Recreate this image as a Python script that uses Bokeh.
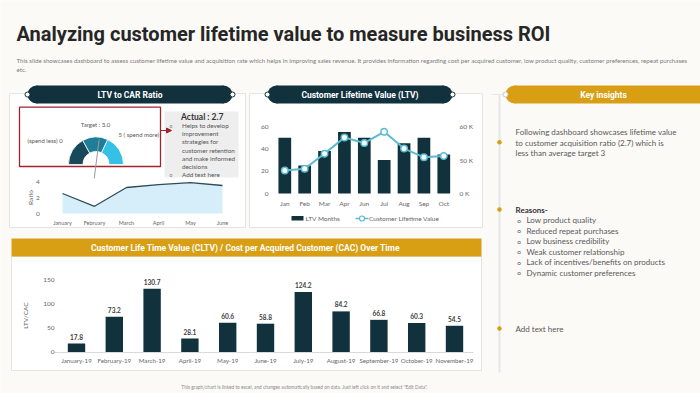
import math
from bokeh.plotting import figure
from bokeh.models import Range1d, LinearAxis, FixedTicker, Arrow, NormalHead
from bokeh.core.properties import value
from bokeh.embed import file_html
from bokeh.resources import INLINE

# ---------------- data ----------------
title_text = "Analyzing customer lifetime value to measure business ROI"
subtitle_lines = [
    "This slide showcases dashboard to assess customer lifetime value and acquisition rate which helps in improving sales revenue. "
    "It provides information regarding cost per acquired customer, low product quality, customer preferences, repeat purchases",
    "etc.",
]
footer_text = 'This graph/chart is linked to excel, and changes automatically based on data. Just left click on it and select "Edit Data".'

gauge_min, gauge_max = 0, 5
gauge_bands = [0, 1.7, 3.2, 5]
target_ratio = 3.0
actual_ratio = 2.7
actual_notes = ["Helps to develop", "improvement", "strategies for", "customer retention",
                "and make informed", "decisions"]

ratio_months = ["January", "February", "March", "April", "May", "June"]
ratio_values = [2.5, 0.9, 3.25, 3.6, 3.85, 3.5]
ratio_ticks = [0, 2, 4]

ltv_months = ["Jan", "Feb", "Mar", "Apr", "Jun", "Jul", "Aug", "Sep", "Oct"]
ltv_month_counts = [50, 25, 38, 55, 50, 30, 45, 50, 35]
clv_thousands = [46.9, 47.4, 51.9, 56.7, 55.1, 58.4, 53.4, 50.8, 51.2]
ltv_left_ticks = [0, 20, 40, 60]
ltv_right_ticks = [40, 50, 60]
ltv_right_labels = ["0 K", "50 K", "60 K"]

cltv_months = ["January-19", "February-19", "March-19", "April-19", "May-19", "June-19",
               "July-19", "August-19", "September-19", "October-19", "November-19"]
cltv_values = [17.8, 73.2, 130.7, 28.1, 60.6, 58.8, 124.2, 84.2, 66.8, 60.3, 54.5]
cltv_ticks = [0, 50, 100, 150]

insight_lines = ["Following dashboard showcases lifetime value",
                 "to customer acquisition ratio (2.7) which is",
                 "less than average target 3"]
reasons = ["Low product quality", "Reduced repeat purchases", "Low business credibility",
           "Weak customer relationship", "Lack of incentives/benefits on products",
           "Dynamic customer preferences"]

# ---------------- style ----------------
BG = "#fbfaf7"
NAVY = "#11313c"
GOLD = "#d89e14"
TEAL = "#5bbcd0"
RED = "#a3222e"
GRAY = "#666666"
TXT = "#595959"
gauge_colors = ["#17495a", "#1e7e98", "#36c0e6"]

X0, X1 = 0, 700
YB, YT = 393, 0

p = figure(width=700, height=393, x_range=Range1d(X0, X1), y_range=Range1d(YB, YT),
           x_axis_type=None, y_axis_type=None, output_backend="svg", toolbar_location=None,
           min_border=0, background_fill_color=BG, border_fill_color=BG)
p.outline_line_color = None

xranges, yranges = {}, {}


def add_xrange(name, d0, d1, px0, px1):
    k = (d1 - d0) / (px1 - px0)
    xranges[name] = Range1d(d0 + (X0 - px0) * k, d0 + (X1 - px0) * k)


def add_yrange(name, d0, d1, py0, py1):
    k = (d1 - d0) / (py0 - py1)
    yranges[name] = Range1d(d0 + (py0 - YB) * k, d0 + (py0 - YT) * k)


def T(xs, ys, texts, size, color=TXT, font="Lato", style="normal", align="left",
      baseline="middle", angle=0.0, xr=None, yr=None, y_off=0):
    kw = {}
    if xr:
        kw["x_range_name"] = xr
    if yr:
        kw["y_range_name"] = yr
    p.text(x=xs, y=ys, text=texts, text_font=value(font), text_font_size=f"{size}px",
           text_color=color, text_font_style=style, text_align=align,
           text_baseline=baseline, angle=angle, y_offset=y_off, **kw)


def pill(x0, x1, yc, h, color):
    r = h / 2
    p.quad(left=x0 + r, right=x1 - r, top=yc - r, bottom=yc + r, fill_color=color, line_color=None)
    p.ellipse(x=[x0 + r, x1 - r], y=[yc, yc], width=h, height=h, fill_color=color, line_color=None)


def style_axis(ax, size=6.5, color=GRAY, line=None):
    ax.axis_line_color = line
    ax.major_tick_line_color = None
    ax.minor_tick_line_color = None
    ax.major_tick_out = 0
    ax.major_tick_in = 0
    ax.minor_tick_out = 0
    ax.minor_tick_in = 0
    ax.major_label_text_font = "Lato"
    ax.major_label_text_font_size = f"{size}px"
    ax.major_label_text_color = color


# ---------------- header ----------------
T([16], [33], [title_text], 20, color="#262626", font="Roboto", style="bold")
T([16, 16], [60, 68.5], subtitle_lines, 6.2, color="#7a7a7a", font="Lato")

# ---------------- cards ----------------
p.quad(left=9, right=245, top=93, bottom=227, fill_color="white", line_color="#e4e4e4")
p.quad(left=249, right=482, top=93, bottom=227, fill_color="white", line_color="#e4e4e4")
p.quad(left=11, right=481, top=256, bottom=370, fill_color="white", line_color="#e4e4e4")

pill(27, 232, 94, 18, NAVY)
p.scatter([27, 232], [94, 94], size=5, fill_color="white", line_color=NAVY, line_width=1)
T([129.5], [94], ["LTV to CAR Ratio"], 8.5, color="white", font="Roboto", style="bold", align="center")

pill(267, 452, 94, 18, NAVY)
p.scatter([267, 452], [94, 94], size=5, fill_color="white", line_color=NAVY, line_width=1)
T([359.5], [94], ["Customer Lifetime Value (LTV)"], 8.5, color="white", font="Roboto", style="bold", align="center")

p.quad(left=11, right=481, top=238, bottom=256, fill_color=GOLD, line_color=None)
T([246], [247], ["Customer Life  Time Value (CLTV) / Cost per Acquired Customer (CAC) Over Time"],
  8.5, color="white", font="Roboto", style="bold", align="center")

# ---------------- gauge ----------------
p.quad(left=19, right=160, top=106.7, bottom=166, fill_color=None, line_color=RED, line_width=1.3)
gx, gy = 95.5, 164
r_out, r_in = 27.5, 13.0


def ang(v):
    return math.pi * (1 - (v - gauge_min) / (gauge_max - gauge_min))


for i in range(len(gauge_colors)):
    p.annular_wedge(x=gx, y=gy, inner_radius=r_in, outer_radius=r_out,
                    start_angle=ang(gauge_bands[i + 1]), end_angle=ang(gauge_bands[i]),
                    fill_color=gauge_colors[i], line_color="white", line_width=0.8)
a = ang(actual_ratio)
p.line(x=[gx - 14 * math.cos(a), gx + 25 * math.cos(a)],
       y=[gy + 14 * math.sin(a), gy - 25 * math.sin(a)], line_color="#9a9a9a", line_width=1)
T([95], [124], [f"Target : {target_ratio:.1f}"], 6, color="#555555", align="center")
T([27], [140], [f"(spend less) {gauge_min}"], 6, color="#555555")
T([118], [134], [f"{gauge_max} ( spend more)"], 6, color="#555555")

p.add_layout(Arrow(end=NormalHead(size=5, fill_color=RED, line_color=RED),
                   x_start=160, y_start=130, x_end=171, y_end=130, line_color=RED, line_width=1.2))
p.quad(left=164, right=238, top=111, bottom=177, fill_color="#eeeeee", line_color=None)
T([180.5], [116], [f"Actual : {actual_ratio}"], 8.5, color="#333333", style="bold")
note_y = [125 + 8.2 * i for i in range(len(actual_notes))]
T([181.5] * len(actual_notes), note_y, actual_notes, 6.3, color="#555555")
T([181.5], [174], ["Add text here"], 6.3, color="#555555")
T([170.5, 170.5], [125, 174], ["o", "o"], 5, color="#777777", align="center")

# ---------------- ratio area chart ----------------
add_xrange("rx", 0, len(ratio_months) - 1, 62, 222)
add_yrange("ry", 0, 4, 213, 181)
ridx = list(range(len(ratio_months)))
p.varea(x=ridx, y1=[0] * len(ridx), y2=ratio_values, x_range_name="rx", y_range_name="ry",
        fill_color="#d5eef9")
p.line(ridx, ratio_values, x_range_name="rx", y_range_name="ry", line_color="#2f4c59", line_width=1.3)
ax = LinearAxis(x_range_name="rx", y_range_name="ry", fixed_location=-0.62, bounds=(0, 4),
                ticker=FixedTicker(ticks=ratio_ticks, minor_ticks=[]), major_label_standoff=3)
style_axis(ax, 6.5)
p.add_layout(ax, "left")
ax = LinearAxis(x_range_name="rx", y_range_name="ry", fixed_location=0, bounds=(0, 5),
                ticker=FixedTicker(ticks=ridx, minor_ticks=[]), major_label_standoff=6,
                major_label_overrides={i: m for i, m in enumerate(ratio_months)})
style_axis(ax, 5.5)
p.add_layout(ax, "below")
T([30], [197], ["Ratio"], 6.5, color=GRAY, align="center", angle=math.pi / 2)

# ---------------- LTV chart ----------------
add_xrange("lx", 0, len(ltv_months) - 1, 284.3, 443.3)
add_yrange("ly", 0, 60, 193, 126)
add_yrange("lr", 40, 60, 193, 126)
lidx = list(range(len(ltv_months)))
p.vbar(x=lidx, top=ltv_month_counts, bottom=0, width=0.64, x_range_name="lx", y_range_name="ly",
       fill_color=NAVY, line_color=None)
p.line(lidx, clv_thousands, x_range_name="lx", y_range_name="lr", line_color=TEAL, line_width=2)
p.scatter(lidx, clv_thousands, x_range_name="lx", y_range_name="lr", size=6.5,
          fill_color="white", line_color=TEAL, line_width=1.5)
ax = LinearAxis(x_range_name="lx", y_range_name="ly", fixed_location=-0.67, bounds=(0, 60),
                ticker=FixedTicker(ticks=ltv_left_ticks, minor_ticks=[]), major_label_standoff=3)
style_axis(ax, 6.5)
p.add_layout(ax, "left")
ax = LinearAxis(x_range_name="lx", y_range_name="lr", fixed_location=8.69, bounds=(40, 60),
                ticker=FixedTicker(ticks=ltv_right_ticks, minor_ticks=[]), major_label_standoff=2,
                major_label_overrides={t: s for t, s in zip(ltv_right_ticks, ltv_right_labels)})
style_axis(ax, 6.5)
p.add_layout(ax, "right")
ax = LinearAxis(x_range_name="lx", y_range_name="ly", fixed_location=0, bounds=(0, 8),
                ticker=FixedTicker(ticks=lidx, minor_ticks=[]), major_label_standoff=6,
                major_label_overrides={i: m for i, m in enumerate(ltv_months)})
style_axis(ax, 6.5)
p.add_layout(ax, "below")
# legend
p.quad(left=291, right=303, top=215.5, bottom=220, fill_color=NAVY, line_color=None)
T([305], [218], ["LTV Months"], 6.5, color=GRAY)
p.line([355, 368], [218, 218], line_color=TEAL, line_width=1.5)
p.scatter([361.5], [218], size=5, fill_color="white", line_color=TEAL, line_width=1.2)
T([368.5], [218], ["Customer Lifetime Value"], 6.5, color=GRAY)

# ---------------- CLTV / CAC chart ----------------
add_xrange("bx", 0, len(cltv_months) - 1, 76, 454)
add_yrange("by", 0, 150, 351.7, 279)
bidx = list(range(len(cltv_months)))
p.vbar(x=bidx, top=cltv_values, bottom=0, width=0.46, x_range_name="bx", y_range_name="by",
       fill_color=NAVY, line_color=None)
T(bidx, cltv_values, [f"{v:.1f}" for v in cltv_values], 6.5, color="#404040", style="bold",
  align="center", baseline="bottom", xr="bx", yr="by", y_off=-4)
ax = LinearAxis(x_range_name="bx", y_range_name="by", fixed_location=-0.5, bounds=(0, 150),
                ticker=FixedTicker(ticks=cltv_ticks, minor_ticks=[]), major_label_standoff=3)
style_axis(ax, 6.5)
p.add_layout(ax, "left")
ax = LinearAxis(x_range_name="bx", y_range_name="by", fixed_location=0, bounds=(-0.58, 10.5),
                ticker=FixedTicker(ticks=bidx, minor_ticks=[]), major_label_standoff=5,
                major_label_overrides={i: m for i, m in enumerate(cltv_months)})
style_axis(ax, 6.2, line="#d9d9d9")
p.add_layout(ax, "below")
T([25], [315], ["LTV/CAC"], 6.5, color=GRAY, align="center", angle=math.pi / 2)

# ---------------- key insights ----------------
p.line([499, 499], [94, 372], line_color="#e6e6e6", line_width=2)
p.line([491, 505], [94, 94], line_color="#e6e6e6", line_width=1)
pill(505, 718, 94, 18, GOLD)
p.scatter([505], [94], size=5, fill_color="white", line_color="#c9c9c9", line_width=1)
T([603], [94], ["Key insights"], 8.5, color="white", font="Roboto", style="bold", align="center")
p.scatter([499, 499, 499], [141.7, 209, 328], size=4.5, fill_color=GOLD, line_color=None)
T([515] * 3, [131.7, 142, 152.3], insight_lines, 8, color=TXT)
T([515], [209], ["Reasons-"], 8, color="#333333", style="bold")
ry = [219.5 + 10.5 * i for i in range(len(reasons))]
T([526] * len(reasons), ry, reasons, 8, color=TXT)
T([518.5] * len(reasons), ry, ["o"] * len(reasons), 6.5, color=TXT, align="center")
T([515], [328], ["Add text here"], 8, color=TXT)

# ---------------- footer ----------------
T([304], [386], [footer_text], 4.8, color="#8a8a8a", align="center", font="Lato")

p.extra_x_ranges = xranges
p.extra_y_ranges = yranges

open("out.html", "w").write(file_html(p, INLINE))
